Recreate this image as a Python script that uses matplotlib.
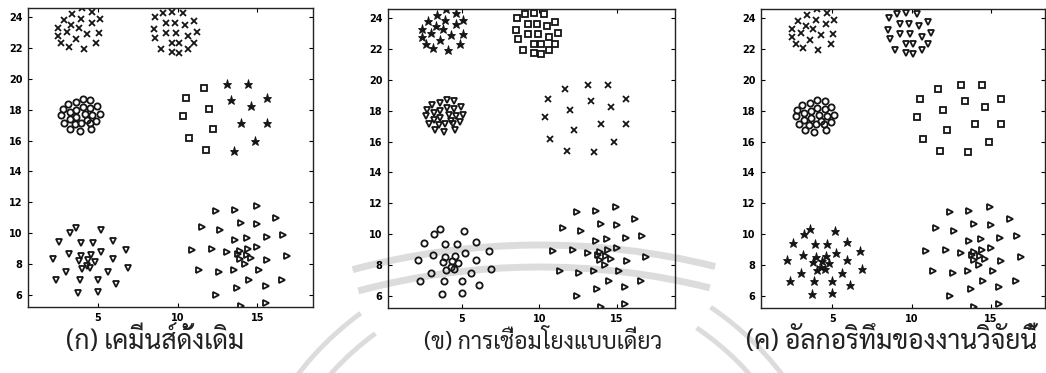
import matplotlib
matplotlib.use('Agg')
import matplotlib.pyplot as plt
from matplotlib import font_manager
from matplotlib.patches import Arc

# ---- data: the six groups of points (same points in every panel) ----
a_x = [4.01, 4.64, 3.38, 2.83, 3.95, 4.62, 5.11, 3.32, 2.47, 3.80,
       3.04, 4.31, 5.06, 2.47, 3.59, 2.68, 3.17, 4.09, 4.89]
a_y = [24.59, 24.37, 24.22, 23.83, 23.87, 23.65, 23.87, 23.50, 23.28, 23.28,
       23.02, 22.91, 23.00, 22.78, 22.57, 22.30, 22.04, 21.93, 22.35]

b_x = [8.58, 9.06, 9.63, 10.33, 9.25, 9.84, 10.47, 11.00, 8.52, 9.25, 9.91,
       10.62, 11.21, 8.60, 9.63, 10.09, 11.04, 8.96, 9.63, 10.09, 10.64]
b_y = [24.00, 24.26, 24.37, 24.26, 23.65, 23.65, 23.50, 23.78, 23.24, 23.00, 23.00,
       22.78, 23.02, 22.67, 22.35, 22.30, 22.30, 21.91, 21.72, 21.65, 21.91]

c_x = [4.05, 4.52, 3.59, 3.11, 4.94, 2.79, 4.05, 4.52, 3.21, 3.63, 2.68, 4.16, 4.64,
       5.11, 3.21, 3.63, 4.31, 2.89, 3.95, 4.47, 4.89, 3.25, 3.84, 4.58, 3.53]
c_y = [18.72, 18.61, 18.50, 18.39, 18.22, 18.07, 18.17, 18.13, 17.85, 18.00, 17.67, 17.74, 17.63,
       17.74, 17.41, 17.52, 17.35, 17.15, 17.13, 17.17, 17.26, 16.76, 16.65, 16.76, 17.09]

# first 7 points of D form the left half of the ring, the rest the right half
d_x = [11.67, 10.54, 11.95, 10.35, 12.22, 10.71, 11.78,
       13.11, 14.43, 13.36, 14.62, 15.61, 13.99, 15.61, 14.85, 13.53]
d_y = [19.43, 18.78, 18.02, 17.57, 16.76, 16.17, 15.39,
       19.70, 19.70, 18.61, 18.24, 18.74, 17.15, 17.15, 15.96, 15.30]
d_split = 7

e_x = [3.59, 5.17, 3.21, 2.54, 3.91, 4.68, 5.95, 2.16, 3.17, 3.95, 4.58, 5.21, 6.75, 3.00, 3.80,
       4.37, 4.79, 4.31, 4.01, 4.52, 5.95, 5.63, 6.89, 2.33, 3.84, 5.00, 6.12, 3.74, 5.00]
e_y = [10.31, 10.20, 9.97, 9.44, 9.33, 9.33, 9.50, 8.33, 8.65, 8.48, 8.55, 8.76, 8.91, 7.49, 8.17,
       8.27, 8.12, 7.85, 7.64, 7.76, 8.33, 7.49, 7.70, 6.92, 6.92, 6.92, 6.70, 6.11, 6.15]

f_x = [12.43, 13.63, 14.96, 11.53, 12.68, 13.95, 15.00, 16.18, 13.63, 14.37, 15.59, 16.64,
       10.89, 12.16, 13.11, 13.91, 14.41, 15.00, 13.91, 14.33, 14.62, 13.78, 14.26, 15.63,
       16.89, 11.32, 12.58, 13.53, 15.11, 14.47, 13.74, 15.53, 16.58, 12.43, 13.95, 15.53]
f_y = [11.41, 11.51, 11.77, 10.39, 10.18, 10.62, 10.60, 10.98, 9.54, 9.65, 9.75, 9.86,
       8.91, 8.97, 8.76, 8.82, 8.97, 9.12, 8.33, 8.55, 8.40, 8.61, 7.97, 8.23,
       8.48, 7.59, 7.49, 7.59, 7.59, 6.92, 6.43, 6.58, 6.96, 5.96, 5.26, 5.47]

x_ticks = [5, 10, 15]
y_ticks = [6, 8, 10, 12, 14, 16, 18, 20, 22, 24]

captions = ['(ก) เคมีนส์ดั้งเดิม', '(ข) การเชื่อมโยงแบบเดี่ยว', '(ค) อัลกอริทึมของงานวิจัยนี้']

groups = {
    'A': (a_x, a_y), 'B': (b_x, b_y), 'C': (c_x, c_y),
    'D1': (d_x[:d_split], d_y[:d_split]), 'D2': (d_x[d_split:], d_y[d_split:]),
    'E': (e_x, e_y), 'F': (f_x, f_y),
}

# marker of every group in each clustering result
panel_markers = [
    {'A': 'x', 'B': 'x', 'C': 'o', 'D1': 's', 'D2': '*', 'E': 'v', 'F': '>'},
    {'A': '*', 'B': 's', 'C': 'v', 'D1': 'x', 'D2': 'x', 'E': 'o', 'F': '>'},
    {'A': 'x', 'B': 'v', 'C': 'o', 'D1': 's', 'D2': 's', 'E': '*', 'F': '>'},
]

# axes boxes in pixels (left, right, top, bottom) and x-limits
W, H = 1046, 373
boxes = [(28, 313, 8, 307), (388, 675, 9, 308), (761, 1045, 9, 308)]
xlims = [(0.6, 18.5), (0.25, 18.75), (0.5, 18.4)]
cap_x = [155, 543, 892]
cap_size = [19, 16.5, 19]

# pick a looped Thai face for the captions
installed = {f.name for f in font_manager.fontManager.ttflist}
thai_font = next((n for n in ['Sarabun', 'Noto Sans Thai Looped', 'Taviraj', 'Trirong',
                              'Noto Serif Thai', 'Noto Sans Thai'] if n in installed), 'DejaVu Sans')

fig = plt.figure(figsize=(W / 100, H / 100), dpi=100)

# faint seal watermark in the background (inches, from the lower-left corner)
wm = dict(transform=fig.dpi_scale_trans, color='#dcdcdc', zorder=-5)
for r in (7.24, 7.02):
    fig.add_artist(Arc((5.40, -5.96), 2 * r, 2 * r, theta1=76, theta2=105, lw=5, **wm))
for r in (3.05, 2.80):
    for t1, t2 in ((126, 150), (34, 56)):
        fig.add_artist(Arc((5.40, -1.87), 2 * r, 2 * r, theta1=t1, theta2=t2, lw=3.5, **wm))

marker_size = {'x': 4.5, 'o': 4.5, 's': 4.3, 'v': 5, '>': 5, '*': 6.5}

for i, (l, r, t, b) in enumerate(boxes):
    ax = fig.add_axes([l / W, 1 - b / H, (r - l) / W, (b - t) / H])
    ax.set_facecolor('none')
    for name, mk in panel_markers[i].items():
        xs, ys = groups[name]
        filled = mk == '*'
        ax.plot(xs, ys, linestyle='none', marker=mk, markersize=marker_size[mk],
                markeredgewidth=1.3 if not filled else 0.6,
                markeredgecolor='#151515',
                markerfacecolor='#151515' if filled else 'none', clip_on=True)
    ax.set_xlim(*xlims[i])
    ax.set_ylim(5.2, 24.6)
    ax.set_xticks(x_ticks)
    ax.set_yticks(y_ticks)
    ax.tick_params(direction='in', top=True, right=True, length=3, width=0.8,
                   labelsize=7, pad=4)
    for lab in ax.get_xticklabels() + ax.get_yticklabels():
        lab.set_fontweight('bold')
    for sp in ax.spines.values():
        sp.set_linewidth(1.0)
        sp.set_color('#222222')
    fig.text(cap_x[i] / W, 1 - 341 / H, captions[i], family=[thai_font, 'DejaVu Sans'],
             fontsize=cap_size[i], ha='center', va='center', color='#222222')

fig.savefig('out.png', dpi=100)
